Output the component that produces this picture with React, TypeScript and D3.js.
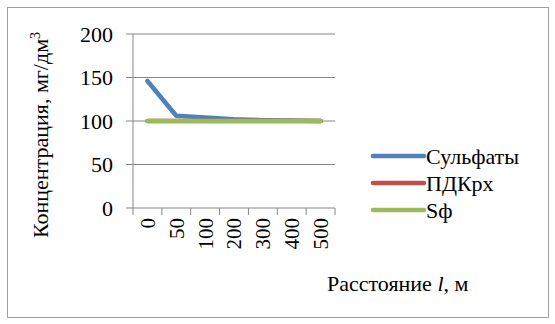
import React from "react";
import * as d3 from "d3";

const distances = ["0", "50", "100", "200", "300", "400", "500"];
const sulfates = [146, 106, 104, 102, 101, 100.5, 100];
const pdkRx = [100, 100, 100, 100, 100, 100, 100];
const sf = [100, 100, 100, 100, 100, 100, 100];
const yTicks = [0, 50, 100, 150, 200];
const seriesNames = ["Сульфаты", "ПДКрх", "Sф"];
const seriesColors = ["#4F81BD", "#C0504D", "#9BBB59"];

const W = 555;
const H = 324;
const plot = { left: 133, right: 335, top: 34, bottom: 208 };
const FONT = "'Liberation Serif', 'DejaVu Serif', serif";
const GRID = "#868686";
const FS = 22;

export default function App() {
  const x = d3.scaleBand<string>().domain(distances).range([plot.left, plot.right]);
  const y = d3.scaleLinear().domain([0, 200]).range([plot.bottom, plot.top]);
  const line = d3
    .line<number>()
    .x((_, i) => (x(distances[i]) as number) + x.bandwidth() / 2)
    .y((d) => y(d));

  const series = [sulfates, pdkRx, sf];
  const legendY = [156, 183, 210];
  const textStyle = { fontFamily: FONT };

  return (
    <svg
      width={W}
      height={H}
      style={{ position: "absolute", left: 0, top: 0, background: "#fff", fontFamily: FONT }}
    >
      <rect x={7.5} y={7.5} width={541} height={310} fill="#fff" stroke="#A0A0A0" strokeWidth={1} />

      {yTicks.map((t) => (
        <g key={t}>
          <line x1={plot.left - 7} x2={plot.right} y1={y(t)} y2={y(t)} stroke={GRID} strokeWidth={1} />
          <text x={113} y={y(t)} dy="0.35em" textAnchor="end" fontSize={FS} fill="#000" style={textStyle}>
            {t}
          </text>
        </g>
      ))}

      <line x1={plot.left} x2={plot.left} y1={plot.top} y2={plot.bottom} stroke={GRID} strokeWidth={1} />
      {d3.range(distances.length + 1).map((i) => {
        const xx = plot.left + i * x.step();
        return <line key={i} x1={xx} x2={xx} y1={plot.bottom} y2={plot.bottom + 7} stroke={GRID} strokeWidth={1} />;
      })}

      {distances.map((d) => {
        const cx = (x(d) as number) + x.bandwidth() / 2;
        return (
          <text
            key={d}
            transform={`translate(${cx},${plot.bottom + 10}) rotate(-90)`}
            textAnchor="end"
            dy="0.35em"
            fontSize={21}
            fill="#000"
            style={textStyle}
          >
            {d}
          </text>
        );
      })}

      {series.map((vals, k) => (
        <path
          key={k}
          d={line(vals) as string}
          fill="none"
          stroke={seriesColors[k]}
          strokeWidth={4.5}
          strokeLinecap="round"
          strokeLinejoin="round"
        />
      ))}

      <text
        transform={`translate(40,135) rotate(-90)`}
        textAnchor="middle"
        dy="0.35em"
        fontSize={FS}
        fill="#000"
        style={textStyle}
      >
        Концентрация, мг/дм<tspan dy="-8" fontSize={14}>3</tspan>
      </text>

      <text x={327} y={283} dy="0.35em" fontSize={FS} fill="#000" style={textStyle}>
        Расстояние <tspan fontStyle="italic">l</tspan>, м
      </text>

      {seriesNames.map((name, i) => (
        <g key={name}>
          <line
            x1={373}
            x2={424}
            y1={legendY[i]}
            y2={legendY[i]}
            stroke={seriesColors[i]}
            strokeWidth={4.5}
            strokeLinecap="round"
          />
          <text x={426} y={legendY[i]} dy="0.35em" fontSize={FS} fill="#000" style={textStyle}>
            {name}
          </text>
        </g>
      ))}
    </svg>
  );
}
